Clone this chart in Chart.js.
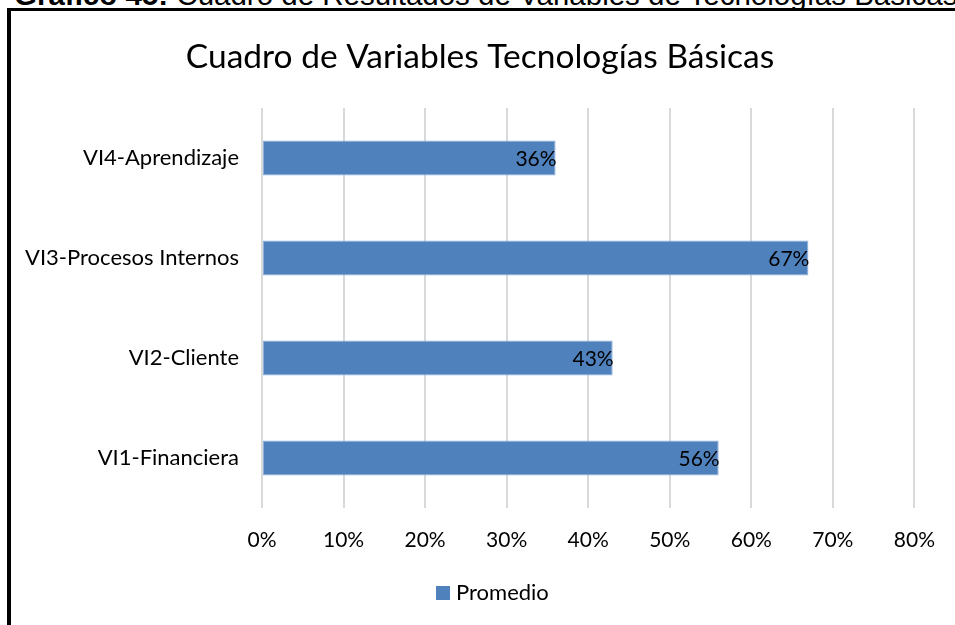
<!DOCTYPE html>
<html lang="es">
<head>
<meta charset="utf-8">
<title>Cuadro de Variables Tecnologías Básicas</title>
<script src="https://cdn.jsdelivr.net/npm/chart.js@4.4.1/dist/chart.umd.min.js"></script>
<style>
    html, body { margin: 0; padding: 0; background: #fff; overflow: hidden; }
    body { width: 955px; height: 625px; position: relative; }
    #caption {
        position: absolute; left: 14px; top: -20px; white-space: nowrap;
        font-family: "Liberation Sans", Arial, sans-serif; font-size: 29.5px; line-height: 29.5px; color: #000;
    }
    #frame {
        position: absolute; left: 7px; top: 8px; width: 960px; height: 640px;
        border-left: 4px solid #000; border-top: 3px solid #000;
    }
    #chart-wrap { position: absolute; left: 11px; top: 11px; width: 944px; height: 614px; }
</style>
</head>
<body>
<div id="caption"><b>Gráfico 45:</b> Cuadro de Resultados de Variables de Tecnologías Básicas</div>
<div id="frame"></div>
<div id="chart-wrap"><canvas id="chart" width="944" height="614"></canvas></div>
<script>
// datos del gráfico
const categorias = ['VI1-Financiera', 'VI2-Cliente', 'VI3-Procesos Internos', 'VI4-Aprendizaje'];
const promedio = [56, 43, 67, 36];
const ticksX = [0, 10, 20, 30, 40, 50, 60, 70, 80];
const titulo = 'Cuadro de Variables Tecnologías Básicas';
const serie = 'Promedio';

const fuente = 'Lato, "Open Sans", sans-serif';
const azul = '#4F81BD';

// título y leyenda dibujados a mano para ubicarlos como en Excel
const tituloLeyenda = {
    id: 'tituloLeyenda',
    afterDraw(chart) {
        const ctx = chart.ctx;
        ctx.save();
        ctx.fillStyle = '#000';
        ctx.textBaseline = 'middle';
        ctx.textAlign = 'center';
        ctx.font = '33.5px ' + fuente;
        ctx.fillText(titulo, 469, 46);

        ctx.fillStyle = azul;
        ctx.fillRect(425, 575, 14, 14);
        ctx.fillStyle = '#000';
        ctx.textAlign = 'left';
        ctx.font = '22px ' + fuente;
        ctx.fillText(serie, 445, 582);
        ctx.restore();
    }
};

// etiquetas de valor dentro del extremo de cada barra
const etiquetasValor = {
    id: 'etiquetasValor',
    afterDatasetsDraw(chart) {
        const ctx = chart.ctx;
        const meta = chart.getDatasetMeta(0);
        ctx.save();
        ctx.font = '21px ' + fuente;
        ctx.fillStyle = '#000';
        ctx.textAlign = 'right';
        ctx.textBaseline = 'middle';
        meta.data.forEach((bar, i) => {
            ctx.fillText(promedio[i] + '%', bar.x + 1, bar.y + 1);
        });
        ctx.restore();
    }
};

new Chart(document.getElementById('chart'), {
    type: 'bar',
    data: {
        labels: categorias,
        datasets: [{
            label: serie,
            data: promedio,
            backgroundColor: azul,
            borderColor: '#8eaedb',
            borderWidth: 1,
            borderSkipped: false,
            barPercentage: 0.35,
            categoryPercentage: 1
        }]
    },
    options: {
        indexAxis: 'y',
        responsive: false,
        animation: false,
        layout: { padding: { left: 0, right: 39, top: 97, bottom: 49 } },
        plugins: {
            title: { display: false },
            legend: { display: false },
            tooltip: { enabled: false }
        },
        scales: {
            x: {
                min: 0,
                max: 80,
                afterBuildTicks(scale) {
                    scale.ticks = ticksX.map(v => ({ value: v }));
                },
                afterFit(scale) { scale.height = 68; },
                grid: { color: '#d9d9d9', lineWidth: 2, drawTicks: false },
                border: { display: false },
                ticks: {
                    color: '#000',
                    padding: 20,
                    font: { family: fuente, size: 21 },
                    callback: v => v + '%'
                }
            },
            y: {
                reverse: true,
                afterFit(scale) { scale.width = 251; },
                grid: { display: false, drawTicks: false },
                border: { display: false },
                ticks: {
                    color: '#000',
                    padding: 23,
                    font: { family: fuente, size: 22 }
                }
            }
        }
    },
    plugins: [etiquetasValor, tituloLeyenda]
});
</script>
</body>
</html>
